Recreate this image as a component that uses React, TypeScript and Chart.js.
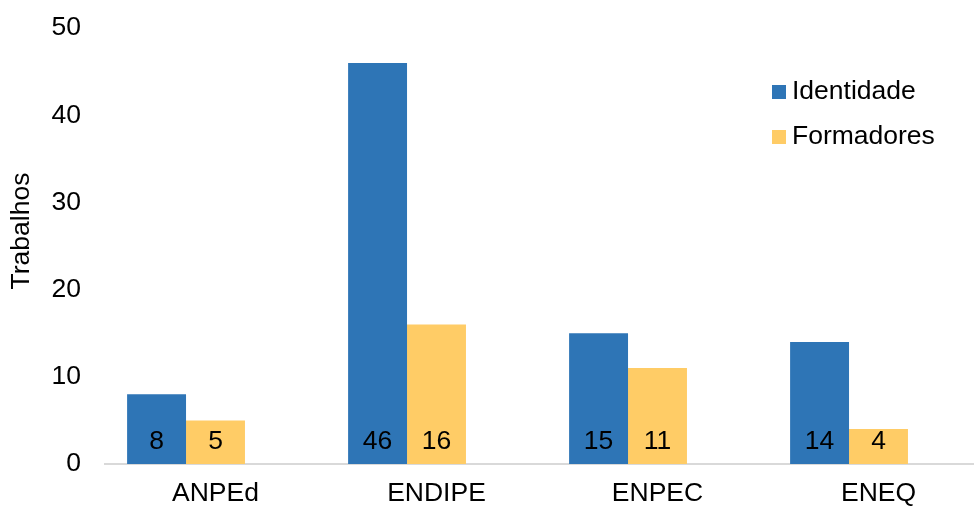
import React, { useEffect, useRef } from "react";
import { Chart, registerables } from "chart.js";

Chart.register(...registerables);

const categories = ["ANPEd", "ENDIPE", "ENPEC", "ENEQ"];
const identidade = [8, 46, 15, 14];
const formadores = [5, 16, 11, 4];
const spacer = [null, null, null, null];
const yTicks = { min: 0, max: 50, step: 10 };
const seriesLabels = ["Identidade", "Formadores"];
const axisTitle = "Trabalhos";

const FONT = "'Liberation Sans', Arial, sans-serif";
const FS = 26.5;
const BLUE = "#2E75B6";
const YELLOW = "#FFCC66";

const valueLabels = {
  id: "valueLabels",
  afterDatasetsDraw(chart: any) {
    const ctx = chart.ctx;
    const y0 = chart.scales.y.getPixelForValue(0);
    ctx.save();
    ctx.font = `${FS}px ${FONT}`;
    ctx.fillStyle = "#000";
    ctx.textAlign = "center";
    ctx.textBaseline = "middle";
    [0, 1].forEach((di) => {
      const meta = chart.getDatasetMeta(di);
      const data = chart.data.datasets[di].data;
      meta.data.forEach((bar: any, i: number) => {
        if (data[i] == null) return;
        ctx.fillText(String(data[i]), bar.x, y0 - 22);
      });
    });
    ctx.restore();
  },
};

const customLegend = {
  id: "customLegend",
  afterDraw(chart: any) {
    const ctx = chart.ctx;
    ctx.save();
    ctx.font = `${FS}px ${FONT}`;
    ctx.textBaseline = "middle";
    ctx.textAlign = "left";
    [0, 1].forEach((di, k) => {
      const ds = chart.data.datasets[di];
      const cy = 92 + k * 45;
      ctx.fillStyle = ds.backgroundColor;
      ctx.fillRect(772, cy - 7, 14, 14);
      ctx.fillStyle = "#000";
      ctx.fillText(ds.label, 792, cy);
    });
    // y-axis title
    ctx.translate(22, 231);
    ctx.rotate(-Math.PI / 2);
    ctx.textAlign = "center";
    ctx.fillText(axisTitle, 0, 0);
    ctx.restore();
  },
};

export default function App() {
  const ref = useRef<HTMLCanvasElement>(null);
  useEffect(() => {
    if (!ref.current) return;
    const chart = new Chart(ref.current, {
      type: "bar",
      data: {
        labels: categories,
        datasets: [
          { label: seriesLabels[0], data: identidade, backgroundColor: BLUE },
          { label: seriesLabels[1], data: formadores, backgroundColor: YELLOW },
          { label: "", data: spacer as any, backgroundColor: "transparent" },
        ],
      },
      options: {
        responsive: false,
        animation: false,
        layout: { padding: { top: 28, left: 0, right: 0, bottom: 0 } },
        datasets: { bar: { categoryPercentage: 0.8, barPercentage: 1.0 } },
        plugins: {
          legend: { display: false },
          tooltip: { enabled: false },
          title: { display: false },
        },
        scales: {
          x: {
            grid: { display: false, drawTicks: false },
            border: { display: true, color: "#D9D9D9", width: 2 },
            ticks: { color: "#000", font: { family: FONT, size: FS }, padding: 14, maxRotation: 0 },
            afterFit(scale: any) {
              scale.height = 43;
              scale.paddingLeft = 0;
              scale.paddingRight = 0;
            },
          },
          y: {
            min: yTicks.min,
            max: yTicks.max,
            grid: { display: false, drawTicks: false },
            border: { display: false },
            ticks: { stepSize: yTicks.step, color: "#000", font: { family: FONT, size: FS }, padding: 24 },
            title: { display: false },
            afterFit(scale: any) {
              scale.width = 105;
              scale.paddingTop = 0;
              scale.paddingBottom = 0;
            },
          },
        },
      } as any,
      plugins: [valueLabels, customLegend],
    });
    return () => chart.destroy();
  }, []);
  return (
    <div style={{ position: "fixed", left: 0, top: 0, width: 974, height: 507, overflow: "hidden", background: "#fff" }}>
      <canvas ref={ref} width={989} height={507} style={{ display: "block" }} />
    </div>
  );
}
